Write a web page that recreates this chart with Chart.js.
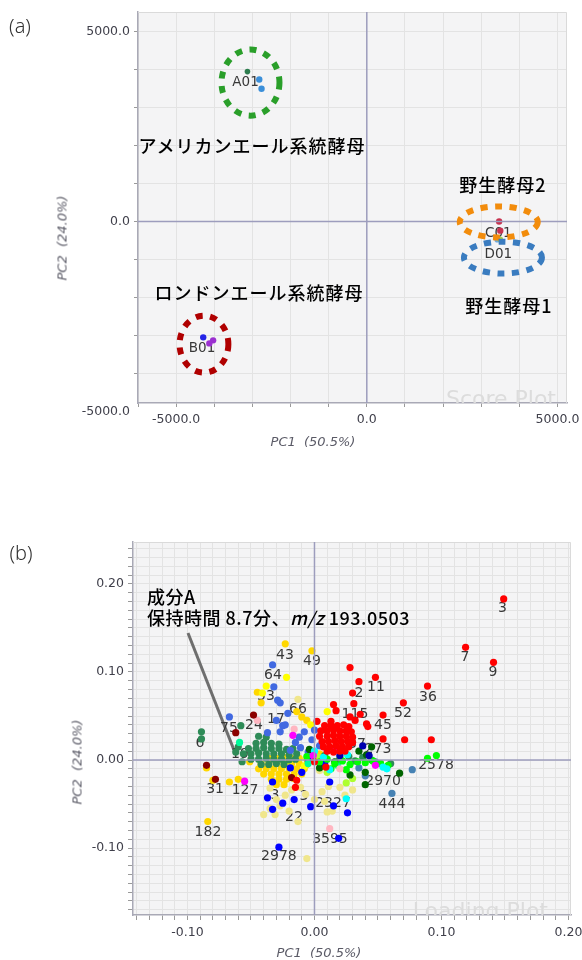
<!DOCTYPE html>
<html>
<head>
<meta charset="utf-8">
<script src="https://cdn.jsdelivr.net/npm/chart.js@4.4.1/dist/chart.umd.min.js"></script>
<style>
  body { margin: 0; width: 582px; height: 960px; position: relative; overflow: hidden; background: #fff;
         font-family: "Noto Sans CJK JP", "Noto Sans", sans-serif; }
  canvas { position: absolute; left: 0; }
  #score { top: 0; }
  #loading { top: 480px; }
  .t { position: absolute; white-space: nowrap; line-height: 1; transform: translate(-50%, -50%); color: #000; }
  .jp { font-size: 18px; letter-spacing: 1px; font-weight: 500; }
  .panel { font-family: "Noto Sans", "DejaVu Sans", sans-serif; font-size: 20px; color: #333; font-weight: 300; }
  .axt { font-family: "DejaVu Sans", sans-serif; font-style: italic; font-size: 13px; color: #5a5a66; }
  .rot { transform: translate(-50%, -50%) rotate(-90deg); }
  .note { position: absolute; left: 147px; top: 586px; font-size: 18px; line-height: 21px; letter-spacing: 0.5px;
          font-weight: 500; color: #000; white-space: nowrap; }
</style>
</head>
<body>
<canvas id="score" width="582" height="460"></canvas>
<canvas id="loading" width="582" height="480"></canvas>

<div class="t panel" style="left:20px;top:26px">(a)</div>
<div class="t jp" style="left:252px;top:145px">アメリカンエール系統酵母</div>
<div class="t jp" style="left:503px;top:184px">野生酵母2</div>
<div class="t jp" style="left:259px;top:292px">ロンドンエール系統酵母</div>
<div class="t jp" style="left:509px;top:305px">野生酵母1</div>
<div class="t axt" style="left:313px;top:441px">PC1&nbsp;&nbsp;(50.5%)</div>
<div class="t axt rot" style="left:62px;top:238px">PC2&nbsp;&nbsp;(24.0%)</div>

<div class="t panel" style="left:21px;top:553px">(b)</div>
<div class="note">成分A<br>保持時間 8.7分、<i>m/z</i> 193.0503</div>
<div class="t axt" style="left:319px;top:952px">PC1&nbsp;&nbsp;(50.5%)</div>
<div class="t axt rot" style="left:77px;top:762px">PC2&nbsp;&nbsp;(24.0%)</div>

<script>
// ---------- (a) score plot: sample groups ----------
const a01Green = [[-3130, 3950]];
const a01Blue = [[-2820, 3740], [-2760, 3500]];
const b01Blue = [[-4290, -3050]];
const b01Purple = [[-4030, -3130], [-4130, -3210]];
const c01Red = [[3470, 0], [3500, -240]];
const d01Green = [[3500, -470]];
const d01Blue = [[3420, -480]];

const scoreNames = ['A01', 'B01', 'C01', 'D01'];
const scoreNameX = [-3180, -4320, 3450, 3450];
const scoreNameY = [3660, -3340, -320, -870];

// ---------- (b) loading plot: compounds, grouped by colour ----------
const redPts = [
  [0.149, 0.183], [0.119, 0.128], [0.141, 0.111], [0.089, 0.084], [0.070, 0.065], [0.048, 0.094],
  [0.035, 0.089], [0.028, 0.105], [0.030, 0.076], [0.031, 0.064], [0.054, 0.051], [0.041, 0.041],
  [0.042, 0.038], [0.032, 0.045], [0.028, 0.049], [0.054, 0.024], [0.071, 0.023], [0.092, 0.023],
  [0.015, 0.063], [0.017, 0.056], [0.036, 0.052], [0.002, 0.044], [0.013, 0.044],
  [0.008, 0.039], [0.013, 0.039], [0.018, 0.039], [0.023, 0.040], [0.027, 0.038],
  [0.005, 0.033], [0.010, 0.033], [0.015, 0.034], [0.020, 0.033], [0.025, 0.033], [0.029, 0.032],
  [0.004, 0.027], [0.010, 0.027], [0.015, 0.028], [0.020, 0.027], [0.025, 0.027], [0.030, 0.026],
  [0.006, 0.021], [0.011, 0.021], [0.016, 0.022], [0.021, 0.021], [0.026, 0.021], [0.030, 0.020],
  [0.007, 0.015], [0.012, 0.015], [0.017, 0.016], [0.022, 0.015], [0.027, 0.015],
  [0.010, 0.010], [0.015, 0.009], [0.020, 0.010], [0.024, 0.010],
  [0.000, -0.002], [-0.014, -0.023], [-0.015, -0.031], [0.009, -0.008]
];
const darkRedPts = [[-0.048, 0.051], [-0.062, 0.031], [-0.085, -0.006], [-0.078, -0.022], [-0.018, -0.020]];
const magentaPts = [[-0.055, -0.024], [-0.017, 0.028], [0.048, -0.006], [0.016, 0.011], [-0.001, 0.005]];
const pinkPts = [[0.012, -0.078], [-0.045, 0.045], [-0.016, 0.035], [0.020, -0.010]];
const navyPts = [[0.038, 0.016], [0.043, 0.005], [0.020, 0.005]];
const cyanPts = [[0.007, 0.003], [0.026, 0.006], [0.025, -0.044], [0.057, -0.010], [0.054, -0.008], [0.012, -0.011], [0.000, 0.010]];
const limePts = [
  [0.089, 0.002], [0.096, 0.005], [0.004, -0.002], [0.010, 0.001], [0.016, -0.004], [0.022, -0.001],
  [0.028, -0.005], [0.034, -0.002], [0.040, -0.003], [0.046, -0.001], [0.052, -0.004], [0.058, -0.006],
  [0.013, -0.010], [0.025, -0.011], [-0.006, 0.004]
];
const darkGreenPts = [[0.045, 0.015], [0.041, 0.006], [0.040, -0.014], [0.028, -0.017], [0.040, -0.028], [0.067, -0.015], [0.016, -0.002], [0.004, -0.009], [-0.004, 0.012], [0.035, 0.010]];
const springPts = [[-0.059, 0.020], [-0.005, -0.004], [0.018, -0.006]];
const yellowGreenPts = [[0.025, -0.026], [0.010, -0.014], [0.030, -0.021], [0.003, 0.003]];
const steelPts = [[0.077, -0.011], [0.061, -0.038], [0.040, -0.018], [0.048, -0.002], [0.035, -0.009]];
const bluePts = [
  [-0.037, -0.043], [-0.033, -0.056], [-0.025, -0.049], [-0.016, -0.045], [-0.003, -0.053], [0.015, -0.052],
  [0.026, -0.060], [-0.028, -0.099], [0.019, -0.089], [0.012, -0.025], [-0.010, -0.014], [-0.019, -0.009],
  [-0.033, -0.025], [0.008, -0.004], [-0.005, 0.000]
];
const royalPts = [
  [-0.033, 0.108], [-0.032, 0.083], [-0.029, 0.068], [-0.027, 0.065], [-0.067, 0.049], [-0.025, 0.039],
  [-0.021, 0.053], [-0.037, 0.031], [-0.027, 0.032], [-0.023, 0.040], [-0.008, 0.032], [-0.002, 0.023],
  [0.000, 0.034], [-0.015, 0.020], [-0.011, 0.014], [-0.005, 0.009], [-0.019, 0.011], [-0.030, 0.045],
  [-0.012, 0.026], [0.004, 0.016]
];
const seaGreenPts = [
  [-0.089, 0.032], [-0.089, 0.024], [-0.058, 0.039], [-0.060, 0.015], [-0.044, 0.027], [-0.038, 0.026],
  [-0.062, 0.009], [-0.057, -0.002],
  [-0.046, 0.019], [-0.040, 0.020], [-0.034, 0.019], [-0.028, 0.018],
  [-0.052, 0.013], [-0.046, 0.013], [-0.040, 0.014], [-0.034, 0.013], [-0.028, 0.013], [-0.022, 0.012], [-0.017, 0.013],
  [-0.056, 0.007], [-0.050, 0.007], [-0.044, 0.008], [-0.038, 0.007], [-0.032, 0.007], [-0.026, 0.007], [-0.020, 0.006], [-0.014, 0.007],
  [-0.050, 0.001], [-0.044, 0.001], [-0.038, 0.002], [-0.032, 0.001], [-0.026, 0.001], [-0.020, 0.000], [-0.015, 0.001],
  [-0.042, -0.005], [-0.036, -0.005], [-0.030, -0.004], [-0.024, -0.005],
  [0.020, 0.002], [0.032, -0.001], [0.045, 0.000], [0.052, -0.004], [0.027, 0.004], [0.038, 0.003], [0.060, -0.004], [0.008, 0.005]
];
const khakiPts = [
  [-0.013, 0.069], [-0.006, -0.112], [-0.013, -0.070], [0.010, -0.059], [-0.035, -0.055], [-0.007, -0.039],
  [0.011, -0.030], [0.030, -0.034], [-0.035, -0.032], [-0.023, -0.040], [0.000, -0.045], [0.006, -0.036],
  [-0.011, -0.031], [0.020, -0.031], [0.004, -0.012], [-0.027, -0.052], [0.014, -0.058], [-0.018, -0.034],
  [-0.040, -0.062], [0.024, -0.040], [-0.031, -0.062], [-0.030, -0.045], [-0.020, -0.058], [0.008, -0.047]
];
const yellowPts = [[-0.022, 0.094], [-0.038, 0.084], [-0.041, 0.076], [0.010, 0.055], [-0.020, -0.001], [-0.008, -0.007], [-0.003, 0.040]];
const goldPts = [
  [-0.023, 0.132], [-0.002, 0.124], [-0.045, 0.077], [-0.042, 0.065], [-0.014, 0.055], [-0.010, 0.049],
  [-0.006, 0.045], [-0.084, -0.070], [-0.085, -0.009], [-0.080, -0.023], [-0.067, -0.025], [-0.051, -0.002],
  [0.005, -0.006], [0.004, 0.007], [-0.060, -0.022],
  [-0.036, 0.002], [-0.030, 0.002], [-0.024, 0.003], [-0.018, 0.002], [-0.012, 0.002], [-0.006, 0.001], [0.000, 0.002],
  [-0.042, -0.004], [-0.036, -0.004], [-0.030, -0.004], [-0.024, -0.003], [-0.018, -0.004], [-0.012, -0.004], [-0.006, -0.005],
  [-0.044, -0.010], [-0.038, -0.010], [-0.032, -0.010], [-0.026, -0.010], [-0.020, -0.009], [-0.014, -0.010], [-0.008, -0.010],
  [-0.040, -0.016], [-0.034, -0.016], [-0.028, -0.016], [-0.022, -0.016], [-0.016, -0.016], [-0.010, -0.016],
  [-0.034, -0.022], [-0.028, -0.022], [-0.022, -0.022], [-0.016, -0.021],
  [-0.030, -0.028], [-0.024, -0.028]
];

// compound numbers printed next to the points
const loadNames = ['3', '7', '9', '36', '52', '45', '11', '2', '115', '37', '273', '2578', '2970', '444',
  '2327', '3595', '22', '2978', '182', '127', '31', '3', '3', '19', '6', '75', '24', '17', '66', '53', '64', '43', '49'];
const loadNameX = [0.148, 0.1185, 0.1406, 0.0894, 0.0697, 0.0539, 0.0484, 0.035, 0.0319, 0.0335, 0.050, 0.0957, 0.054, 0.061,
  0.0146, 0.0122, -0.0161, -0.028, -0.0839, -0.0547, -0.0783, -0.0311, -0.0083, -0.0587, -0.0902, -0.0673, -0.0476, -0.0303,
  -0.013, -0.0382, -0.0327, -0.0232, -0.002];
const loadNameY = [0.172, 0.117, 0.100, 0.0716, 0.0534, 0.0398, 0.083, 0.076, 0.0523, 0.018, 0.0125, -0.0057, -0.0239, -0.050,
  -0.0489, -0.0898, -0.0648, -0.110, -0.0818, -0.0341, -0.033, -0.0398, -0.0409, 0.0068, 0.0193, 0.0364, 0.0398, 0.0466,
  0.058, 0.0727, 0.0966, 0.1193, 0.1125];

// ---------- decorations, per canvas ----------
const decorCfg = {
  score: {
    watermark: 'Score Plot', wmInset: 11,
    labelFont: '13.5px "DejaVu Sans"',
    names: { text: scoreNames, x: scoreNameX, y: scoreNameY },
    rings: [
      { x: -3050, y: 3660, rx: 760, ry: 870, color: '#2a9f2a' },
      { x: -4270, y: -3230, rx: 640, ry: 750, color: '#b00000' },
      { x: 3460, y: -10, rx: 1023, ry: 408, color: '#f28c0c' },
      { x: 3570, y: -950, rx: 1023, ry: 420, color: '#3a7cc0' }
    ]
  },
  loading: {
    watermark: 'Loading Plot', wmInset: 23,
    labelFont: '14px "DejaVu Sans"',
    names: { text: loadNames, x: loadNameX, y: loadNameY },
    pointer: { x1: -0.0996, y1: 0.1443, x2: -0.0634, y2: 0.0114 }
  }
};

const decor = {
  id: 'decor',
  beforeDraw(chart) {
    const { ctx, chartArea: a } = chart;
    ctx.save();
    ctx.fillStyle = '#f4f4f5';
    ctx.fillRect(a.left, a.top, a.right - a.left, a.bottom - a.top);
    ctx.restore();
  },
  beforeDatasetsDraw(chart) {
    const cfg = decorCfg[chart.canvas.id];
    const { ctx, chartArea: a, scales: { x, y } } = chart;
    ctx.save();
    // light frame on top / right
    ctx.strokeStyle = '#dadada';
    ctx.lineWidth = 1;
    ctx.beginPath();
    ctx.moveTo(a.left, a.top + 0.5); ctx.lineTo(a.right - 0.5, a.top + 0.5); ctx.lineTo(a.right - 0.5, a.bottom);
    ctx.stroke();

    ctx.beginPath();
    ctx.rect(a.left, a.top, a.right - a.left, a.bottom - a.top);
    ctx.clip();
    ctx.font = '22px "DejaVu Sans"';
    ctx.fillStyle = '#dcdcdc';
    ctx.textAlign = 'right';
    ctx.textBaseline = 'alphabetic';
    ctx.fillText(cfg.watermark, a.right - cfg.wmInset, a.bottom + 3);

    if (cfg.pointer) {
      const p = cfg.pointer;
      ctx.strokeStyle = '#6e6e6e';
      ctx.lineWidth = 3;
      ctx.beginPath();
      ctx.moveTo(x.getPixelForValue(p.x1), y.getPixelForValue(p.y1));
      ctx.lineTo(x.getPixelForValue(p.x2), y.getPixelForValue(p.y2));
      ctx.stroke();
    }

    ctx.font = cfg.labelFont;
    ctx.fillStyle = '#383838';
    ctx.textAlign = 'center';
    ctx.textBaseline = 'middle';
    const n = cfg.names;
    n.text.forEach((t, i) => ctx.fillText(t, x.getPixelForValue(n.x[i]), y.getPixelForValue(n.y[i])));
    ctx.restore();
  },
  afterDatasetsDraw(chart) {
    const cfg = decorCfg[chart.canvas.id];
    const { ctx, chartArea: a, scales: { x, y } } = chart;
    ctx.save();
    // origin cross
    ctx.strokeStyle = '#9d9dbd';
    ctx.lineWidth = 1.5;
    const x0 = x.getPixelForValue(0), y0 = y.getPixelForValue(0);
    ctx.beginPath();
    ctx.moveTo(x0, a.top); ctx.lineTo(x0, a.bottom);
    ctx.moveTo(a.left, y0); ctx.lineTo(a.right, y0);
    ctx.stroke();

    (cfg.rings || []).forEach(r => {
      const cx = x.getPixelForValue(r.x), cy = y.getPixelForValue(r.y);
      const rx = x.getPixelForValue(r.x + r.rx) - cx;
      const ry = cy - y.getPixelForValue(r.y + r.ry);
      ctx.strokeStyle = r.color;
      ctx.lineWidth = 6;
      ctx.setLineDash([7, 7.5]);
      ctx.beginPath();
      ctx.ellipse(cx, cy, rx, ry, 0, 0, Math.PI * 2);
      ctx.stroke();
    });
    ctx.restore();
  }
};

const dots = (pts, color, r) => ({
  data: pts.map(([x, y]) => ({ x, y })),
  backgroundColor: color,
  borderWidth: 0,
  pointRadius: r,
  pointHoverRadius: r
});

const tickFont = { family: 'DejaVu Sans', size: 12.5 };
const tickColor = '#3f3f4a';

function axis(opts) {
  return {
    type: 'linear',
    min: opts.min,
    max: opts.max,
    afterBuildTicks: s => { s.ticks = opts.ticks.map(v => ({ value: v })); },
    afterFit: s => {
      if (opts.width) s.width = opts.width;
      if (opts.height) s.height = opts.height;
      s.paddingLeft = 0; s.paddingRight = 0; s.paddingTop = 0; s.paddingBottom = 0;
    },
    ticks: {
      autoSkip: false, maxRotation: 0, padding: opts.pad,
      font: tickFont, color: tickColor, callback: opts.label
    },
    grid: {
      color: c => (c.tick && c.tick.value < opts.min - 1e-9) ? 'rgba(0,0,0,0)' : '#e3e3e3',
      tickColor: c => (c.tick && c.tick.value < opts.min - 1e-9) ? 'rgba(0,0,0,0)' : '#9a9a9a',
      tickLength: opts.tickLen,
      lineWidth: 1
    },
    border: { display: true, color: '#a9a9b6', width: 1.5 }
  };
}

// (a) ticks every 1000, labels at ±5000 and 0
const scoreXTicks = [], scoreYTicks = [];
for (let v = -6000; v <= 5000; v += 1000) scoreXTicks.push(v);
for (let v = -5000; v <= 5000; v += 1000) scoreYTicks.push(v);
const scoreLabel = v => (v % 5000 === 0 ? v.toFixed(1) : '');

new Chart(document.getElementById('score'), {
  type: 'scatter',
  data: {
    datasets: [
      dots(c01Red, '#c8324f', 3.2),
      dots(d01Green, '#a6d04a', 2.8),
      dots(d01Blue, '#6fa8dc', 2.8),
      dots(a01Blue, '#3b8fd9', 3.2),
      dots(a01Green, '#2e7d4f', 2.8),
      dots(b01Purple, '#9b30d0', 3.2),
      dots(b01Blue, '#2424e6', 3.2)
    ]
  },
  options: {
    responsive: false,
    animation: false,
    layout: { padding: { top: 12, right: 15, left: 0, bottom: 0 } },
    plugins: { legend: { display: false }, tooltip: { enabled: false } },
    scales: {
      x: axis({ min: -6000, max: 5250, ticks: scoreXTicks, label: scoreLabel, height: 57, pad: 5, tickLen: 4 }),
      y: axis({ min: -4780, max: 5520, ticks: scoreYTicks, label: scoreLabel, width: 138, pad: 4, tickLen: 4 })
    }
  },
  plugins: [decor]
});

// (b) ticks every 0.01, labels every 0.10
const loadXTicks = [], loadYTicks = [];
for (let k = -14; k <= 20; k++) loadXTicks.push(k / 100);
for (let k = -17; k <= 24; k++) loadYTicks.push(k / 100);
const loadLabel = v => (Math.round(v * 100) % 10 === 0 ? v.toFixed(2) : '');

new Chart(document.getElementById('loading'), {
  type: 'scatter',
  data: {
    datasets: [
      dots(redPts, '#ff0000', 3.6),
      dots(darkRedPts, '#8b0000', 3.6),
      dots(magentaPts, '#ff00ff', 3.6),
      dots(pinkPts, '#ffb6c1', 3.6),
      dots(navyPts, '#0000b0', 3.6),
      dots(cyanPts, '#00ffff', 3.6),
      dots(limePts, '#00ff00', 3.6),
      dots(darkGreenPts, '#006400', 3.6),
      dots(springPts, '#00fa9a', 3.6),
      dots(yellowGreenPts, '#adff2f', 3.6),
      dots(steelPts, '#4682b4', 3.6),
      dots(bluePts, '#0000ff', 3.6),
      dots(royalPts, '#4169e1', 3.6),
      dots(seaGreenPts, '#2e8b57', 3.6),
      dots(khakiPts, '#f0e68c', 3.6),
      dots(yellowPts, '#ffff00', 3.6),
      dots(goldPts, '#ffd700', 3.6)
    ]
  },
  options: {
    responsive: false,
    animation: false,
    layout: { padding: { top: 62, right: 11, left: 0, bottom: 0 } },
    plugins: { legend: { display: false }, tooltip: { enabled: false } },
    scales: {
      x: axis({ min: -0.1429, max: 0.2020, ticks: loadXTicks, label: loadLabel, height: 45, pad: 5, tickLen: 5 }),
      y: axis({ min: -0.1761, max: 0.2477, ticks: loadYTicks, label: loadLabel, width: 133, pad: 4, tickLen: 5 })
    }
  },
  plugins: [decor]
});
</script>
</body>
</html>
